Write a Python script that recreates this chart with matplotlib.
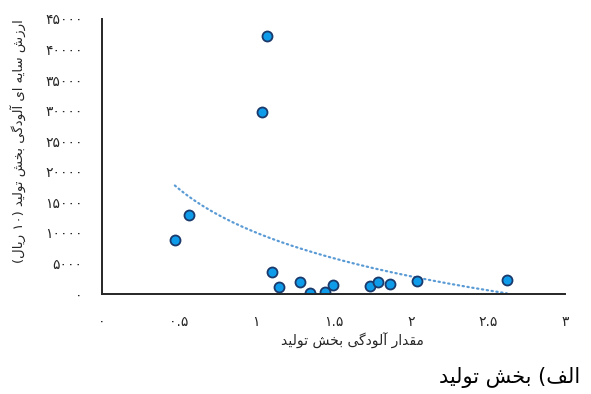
import re
import matplotlib
matplotlib.use("Agg")
import matplotlib.pyplot as plt
import numpy as np
from matplotlib.ticker import FuncFormatter

# pollution amount (x) and shadow value (y) of the production sector
pollution = [0.472, 0.563, 1.037, 1.071, 1.104, 1.145, 1.286, 1.348,
             1.448, 1.494, 1.734, 1.786, 1.866, 2.043, 2.623]
shadow_value = [8900, 12900, 29800, 42200, 3600, 1100, 2000, 200,
                300, 1400, 1300, 1900, 1600, 2200, 2300]

x_ticks = [0, 0.5, 1, 1.5, 2, 2.5, 3]
y_ticks = [0, 5000, 10000, 15000, 20000, 25000, 30000, 35000, 40000, 45000]

x_title = "مقدار آلودگی بخش تولید"
y_title = "ارزش سایه ای آلودگی بخش تولید (۱۰ ریال)"
caption = "الف) بخش تولید"

# arabic presentation forms: isolated, final, initial, medial
FORMS = {
    'ا': '\uFE8D\uFE8E', 'آ': '\uFE81\uFE82', 'د': '\uFEA9\uFEAA',
    'ر': '\uFEAD\uFEAE', 'ز': '\uFEAF\uFEB0', 'و': '\uFEED\uFEEE',
    'ب': '\uFE8F\uFE90\uFE91\uFE92', 'ت': '\uFE95\uFE96\uFE97\uFE98',
    'خ': '\uFEA5\uFEA6\uFEA7\uFEA8', 'س': '\uFEB1\uFEB2\uFEB3\uFEB4',
    'ش': '\uFEB5\uFEB6\uFEB7\uFEB8', 'ف': '\uFED1\uFED2\uFED3\uFED4',
    'ق': '\uFED5\uFED6\uFED7\uFED8', 'ل': '\uFEDD\uFEDE\uFEDF\uFEE0',
    'م': '\uFEE1\uFEE2\uFEE3\uFEE4', 'ه': '\uFEE9\uFEEA\uFEEB\uFEEC',
    'ی': '\uFBFC\uFBFD\uFBFE\uFBFF', 'گ': '\uFB92\uFB93\uFB94\uFB95',
}


def shape(text):
    out = []
    for i, ch in enumerate(text):
        if ch not in FORMS:
            out.append(ch)
            continue
        prev = text[i - 1] if i > 0 else ''
        nxt = text[i + 1] if i + 1 < len(text) else ''
        jp = prev in FORMS and len(FORMS[prev]) == 4
        jn = len(FORMS[ch]) == 4 and nxt in FORMS
        idx = 3 if (jp and jn) else 1 if jp else 2 if jn else 0
        out.append(FORMS[ch][idx])
    return ''.join(out)


def rtl(text):
    # right-to-left line in visual order, digit runs kept left-to-right
    toks = re.findall(r'[۰-۹.]+|.', shape(text))[::-1]
    mirror = {'(': ')', ')': '('}
    return ''.join(mirror.get(t, t) for t in toks)


def fa_digits(v):
    s = ('%g' % v)
    return s.translate(str.maketrans('0123456789', '۰۱۲۳۴۵۶۷۸۹'))


plt.rcParams['font.family'] = ['DejaVu Sans']

fig = plt.figure(figsize=(5.91, 3.94), dpi=100)
ax = fig.add_axes([0.1726, 0.2538, 0.7834, 0.698])

ax.scatter(pollution, shadow_value, s=52, color='#0E9BEA',
           edgecolors='#1B3A6B', linewidths=1.3, zorder=3)

# logarithmic trendline fitted on the data
xs = np.array(pollution)
b, a = np.polyfit(np.log(xs), np.array(shadow_value), 1)
xf = np.linspace(xs.min(), xs.max(), 200)
ax.plot(xf, a + b * np.log(xf), color='#5B9BD5', lw=1.6,
        linestyle=(0, (0.6, 1.6)), dash_capstyle='round', zorder=2)

ax.set_xlim(0, 3)
ax.set_ylim(0, 45000)
ax.set_xticks(x_ticks)
ax.set_yticks(y_ticks)
ax.xaxis.set_major_formatter(FuncFormatter(lambda v, p: fa_digits(v)))
ax.yaxis.set_major_formatter(FuncFormatter(lambda v, p: fa_digits(v)))
ax.tick_params(length=0, labelsize=10, colors='#262626')
ax.tick_params(axis='x', pad=15)
ax.tick_params(axis='y', pad=14)

for side in ['top', 'right']:
    ax.spines[side].set_visible(False)
for side in ['left', 'bottom']:
    ax.spines[side].set_color('#262626')
    ax.spines[side].set_linewidth(1.4)
ax.spines['bottom'].set_zorder(4)

fig.text(352 / 591, 1 - 341 / 394, rtl(x_title), ha='center', va='center',
         fontsize=10, color='#262626')
fig.text(18 / 591, 1 - 141 / 394, rtl(y_title), ha='center', va='center',
         rotation=90, fontsize=9.5, color='#262626')
fig.text(580 / 591, 1 - 378 / 394, rtl(caption), ha='right', va='center',
         fontsize=15, color='black')

fig.savefig('out.png', dpi=100)
